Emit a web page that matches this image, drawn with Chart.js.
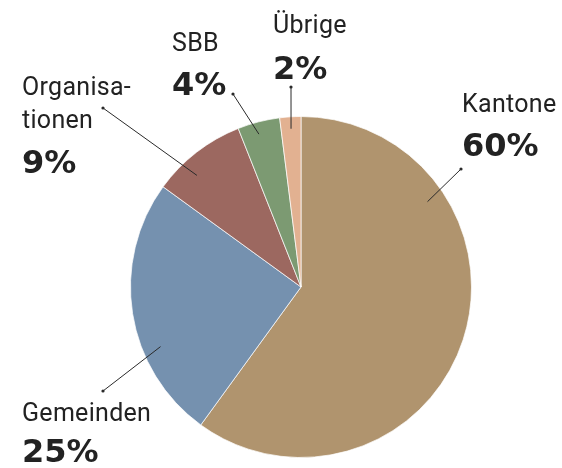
<!DOCTYPE html>
<html>
<head>
<meta charset="utf-8">
<script src="https://cdn.jsdelivr.net/npm/chart.js@4.4.1/dist/chart.umd.min.js"></script>
<style>
  html, body { margin: 0; padding: 0; background: #fff; }
  #wrap { width: 562px; height: 468px; }
</style>
</head>
<body>
<div id="wrap"><canvas id="pie"></canvas></div>
<script>
const categories = ["Kantone", "Gemeinden", "Organisationen", "SBB", "Übrige"];
const shares = [60, 25, 9, 4, 2];
const sliceColors = ["#B0946E", "#7591AF", "#9C6860", "#7C9A72", "#E2B191"];

// label layout: name lines, text x, baselines, leader line (inner angle/fraction on the pie, outer end point)
const labelLayout = [
  { lines: ["Kantone"], x: 462, y: [112], pctY: 156, ang: 56, frac: 0.895, end: [461, 169] },
  { lines: ["Gemeinden"], x: 22, y: [421], pctY: 462, ang: 247, frac: 0.895, end: [103, 391] },
  { lines: ["Organisa-", "tionen"], x: 22, y: [95, 128], pctY: 173, ang: 317, frac: 0.895, end: [103, 108] },
  { lines: ["SBB"], x: 172, y: [51], pctY: 95, ang: 344.6, frac: 0.93, end: [233, 94] },
  { lines: ["Übrige"], x: 273, y: [33], pctY: 79, ang: 356.4, frac: 0.93, end: [291, 87] },
];

const labelPlugin = {
  id: "pieLabels",
  afterDraw(chart) {
    const ctx = chart.ctx;
    const arcs = chart.getDatasetMeta(0).data;
    const cx = arcs[0].x, cy = arcs[0].y, r = arcs[0].outerRadius;
    ctx.save();
    labelLayout.forEach((l, i) => {
      // leader line
      const a = (l.ang * Math.PI) / 180;
      const sx = cx + Math.sin(a) * r * l.frac;
      const sy = cy - Math.cos(a) * r * l.frac;
      ctx.strokeStyle = "#2a2a2a";
      ctx.lineWidth = 1;
      ctx.beginPath();
      ctx.moveTo(sx, sy);
      ctx.lineTo(l.end[0], l.end[1]);
      ctx.stroke();
      ctx.fillStyle = "#2a2a2a";
      ctx.beginPath();
      ctx.arc(l.end[0], l.end[1], 1.6, 0, Math.PI * 2);
      ctx.fill();

      // texts
      ctx.fillStyle = "#222";
      ctx.textAlign = "left";
      ctx.textBaseline = "alphabetic";
      ctx.font = "25px Roboto";
      ctx.letterSpacing = "0.3px";
      l.lines.forEach((t, j) => ctx.fillText(t, l.x, l.y[j]));
      ctx.font = "bold 32px 'DejaVu Sans'";
      ctx.letterSpacing = "0px";
      ctx.fillText(shares[i] + "%", l.x, l.pctY);
    });
    ctx.restore();
  },
};

new Chart(document.getElementById("pie").getContext("2d"), {
  type: "pie",
  data: {
    labels: categories,
    datasets: [
      {
        data: shares,
        backgroundColor: sliceColors,
        borderColor: "rgba(255,255,255,0.7)",
        borderWidth: 1,
      },
    ],
  },
  options: {
    responsive: true,
    maintainAspectRatio: false,
    animation: false,
    layout: { padding: { left: 130, right: 90, top: 116, bottom: 10 } },
    plugins: {
      legend: { display: false },
      tooltip: { enabled: false },
    },
  },
  plugins: [labelPlugin],
});
</script>
</body>
</html>
